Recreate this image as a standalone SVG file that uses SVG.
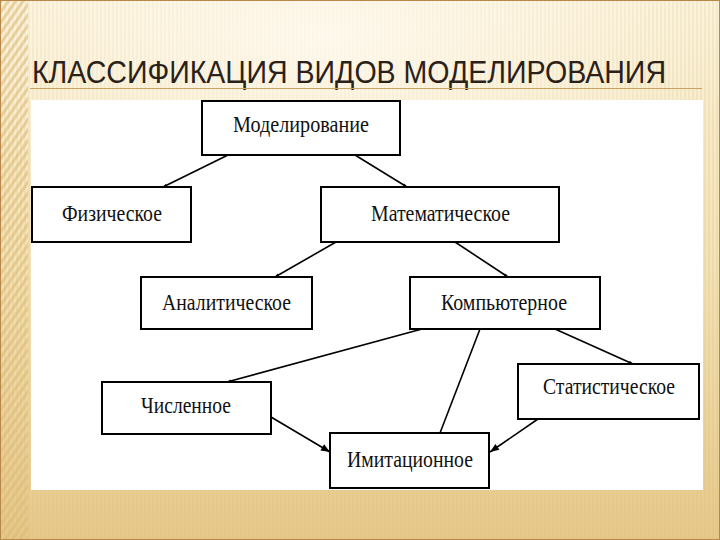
<svg xmlns="http://www.w3.org/2000/svg" width="720" height="540" viewBox="0 0 720 540">
  <defs>
    <linearGradient id="bg" x1="0" y1="0" x2="0" y2="1">
      <stop offset="0" stop-color="#fbf2d9"/>
      <stop offset="0.5" stop-color="#f3e2b5"/>
      <stop offset="1" stop-color="#e6c88a"/>
    </linearGradient>
    <radialGradient id="glow" cx="0.45" cy="0.12" r="0.6">
      <stop offset="0" stop-color="#fffaf0" stop-opacity="0.9"/>
      <stop offset="1" stop-color="#fffaf0" stop-opacity="0"/>
    </radialGradient>
    <pattern id="vstripe" width="4" height="10" patternUnits="userSpaceOnUse">
      <rect x="0" y="0" width="2" height="10" fill="#d9b877" fill-opacity="0.2"/>
    </pattern>
    <pattern id="hatch" width="6" height="6" patternUnits="userSpaceOnUse" patternTransform="rotate(35)">
      <rect x="0" y="0" width="3" height="6" fill="#ddbb76" fill-opacity="0.6"/>
    </pattern>
    <marker id="sm" viewBox="0 0 10 10" refX="10" refY="5" markerWidth="5" markerHeight="4" markerUnits="userSpaceOnUse" orient="auto">
      <path d="M0,1 L10,5 L0,9 z" fill="#000"/>
    </marker>
    <marker id="lg" viewBox="0 0 10 10" refX="10" refY="5" markerWidth="11" markerHeight="9" markerUnits="userSpaceOnUse" orient="auto">
      <path d="M0,1 L10,5 L0,9 z" fill="#000"/>
    </marker>
    <style>
      .box { fill: #ffffff; stroke: #000000; stroke-width: 2; }
      .lbl { font-family: "Liberation Serif", "Times New Roman", serif; font-size: 23px; fill: #111111; }
      .edge { stroke: #000000; stroke-width: 1.6; fill: none; }
      .title { font-family: "Liberation Sans", Arial, sans-serif; font-size: 31px; fill: #2b2118; }
    </style>
  </defs>

  <!-- background -->
  <rect x="0" y="0" width="720" height="540" fill="url(#bg)"/>
  <rect x="0" y="0" width="720" height="540" fill="url(#vstripe)"/>
  <rect x="0" y="0" width="720" height="300" fill="url(#glow)"/>
  <rect x="0" y="0" width="28" height="540" fill="url(#hatch)"/>
  <rect x="0.5" y="0.5" width="719" height="539" fill="none" stroke="#b8874a" stroke-width="1"/>

  <!-- title -->
  <text class="title" x="32" y="83" textLength="634" lengthAdjust="spacingAndGlyphs">КЛАССИФИКАЦИЯ ВИДОВ МОДЕЛИРОВАНИЯ</text>
  <line x1="30" y1="88.5" x2="702" y2="88.5" stroke="#c9a264" stroke-width="1"/>

  <!-- white picture area -->
  <rect x="31" y="100" width="672" height="390" fill="#ffffff"/>

  <!-- connectors -->
  <g id="connectors">
    <line class="edge" x1="228" y1="155" x2="163" y2="187" marker-end="url(#sm)"/>
    <line class="edge" x1="355" y1="155" x2="407" y2="187" marker-end="url(#sm)"/>
    <line class="edge" x1="336" y1="242" x2="275" y2="277" marker-end="url(#sm)"/>
    <line class="edge" x1="455" y1="242" x2="508" y2="277" marker-end="url(#sm)"/>
    <line class="edge" x1="422" y1="329" x2="227" y2="382" marker-end="url(#sm)"/>
    <line class="edge" x1="480" y1="329" x2="440" y2="433"/>
    <line class="edge" x1="555" y1="329" x2="633" y2="364" marker-end="url(#sm)"/>
    <line class="edge" x1="271" y1="417" x2="330" y2="452" marker-end="url(#lg)"/>
    <line class="edge" x1="538" y1="419" x2="490" y2="452" marker-end="url(#lg)"/>
  </g>

  <!-- nodes -->
  <g id="n-modelirovanie">
    <rect class="box" x="202" y="101" width="198" height="54"/>
    <text class="lbl" x="233" y="132" textLength="136" lengthAdjust="spacingAndGlyphs">Моделирование</text>
  </g>
  <g id="n-fizicheskoe">
    <rect class="box" x="32" y="187" width="159" height="55"/>
    <text class="lbl" x="62" y="221" textLength="100" lengthAdjust="spacingAndGlyphs">Физическое</text>
  </g>
  <g id="n-matematicheskoe">
    <rect class="box" x="321" y="187" width="238" height="55"/>
    <text class="lbl" x="371" y="221" textLength="139" lengthAdjust="spacingAndGlyphs">Математическое</text>
  </g>
  <g id="n-analiticheskoe">
    <rect class="box" x="141" y="277" width="171" height="52"/>
    <text class="lbl" x="162" y="310" textLength="129" lengthAdjust="spacingAndGlyphs">Аналитическое</text>
  </g>
  <g id="n-kompyuternoe">
    <rect class="box" x="410" y="277" width="190" height="52"/>
    <text class="lbl" x="441" y="310" textLength="126" lengthAdjust="spacingAndGlyphs">Компьютерное</text>
  </g>
  <g id="n-chislennoe">
    <rect class="box" x="102" y="382" width="169" height="52"/>
    <text class="lbl" x="141" y="413" textLength="90" lengthAdjust="spacingAndGlyphs">Численное</text>
  </g>
  <g id="n-statisticheskoe">
    <rect class="box" x="518" y="364" width="181" height="55"/>
    <text class="lbl" x="543" y="394" textLength="132" lengthAdjust="spacingAndGlyphs">Статистическое</text>
  </g>
  <g id="n-imitacionnoe">
    <rect class="box" x="330" y="433" width="159" height="55"/>
    <text class="lbl" x="347" y="467" textLength="126" lengthAdjust="spacingAndGlyphs">Имитационное</text>
  </g>
</svg>
